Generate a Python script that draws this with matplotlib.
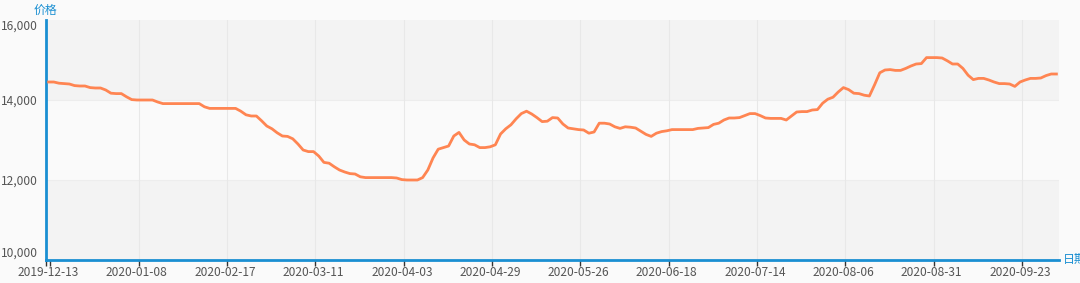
import numpy as np
import matplotlib.pyplot as plt

plt.rcParams['font.family'] = ['Noto Sans CJK SC', 'DejaVu Sans']

# 价格 (每个交易日一个点, 从图上读出来的)
prices = [
    14450, 14450, 14420, 14410, 14400, 14360, 14350, 14350, 14310, 14300,
    14300, 14250, 14170, 14160, 14160, 14080, 14010, 14000, 14000, 14000,
    14000, 13950, 13910, 13910, 13910, 13910, 13910, 13910, 13910, 13910,
    13830, 13790, 13790, 13790, 13790, 13790, 13790, 13720, 13630, 13600,
    13600, 13480, 13350, 13280, 13180, 13100, 13090, 13030, 12900, 12750,
    12710, 12710, 12600, 12440, 12420, 12330, 12250, 12200, 12160, 12150,
    12080, 12060, 12060, 12060, 12060, 12060, 12060, 12050, 12010, 12000,
    12000, 12000, 12060, 12250, 12550, 12770, 12810, 12850, 13100, 13190,
    13000, 12900, 12880, 12810, 12810, 12830, 12880, 13150, 13280, 13380,
    13530, 13660, 13720, 13650, 13560, 13460, 13470, 13560, 13550, 13400,
    13300, 13280, 13260, 13250, 13170, 13200, 13420, 13420, 13400, 13330,
    13290, 13330, 13320, 13300, 13220, 13140, 13090, 13170, 13210, 13230,
    13260, 13260, 13260, 13260, 13260, 13290, 13300, 13310, 13390, 13420,
    13500, 13550, 13550, 13560, 13610, 13660, 13660, 13610, 13550, 13540,
    13540, 13540, 13500, 13600, 13700, 13710, 13710, 13750, 13760, 13920,
    14020, 14070, 14200, 14310, 14260, 14170, 14160, 14120, 14100, 14380,
    14680, 14750, 14760, 14740, 14740, 14790, 14850, 14900, 14910, 15060,
    15060, 15060, 15050, 14980, 14900, 14900, 14790, 14620, 14510, 14540,
    14540, 14500, 14450, 14410, 14410, 14400, 14340, 14450, 14500, 14540,
    14540, 14550, 14610, 14650, 14650,
]

date_labels = ['2019-12-13', '2020-01-08', '2020-02-17', '2020-03-11',
               '2020-04-03', '2020-04-29', '2020-05-26', '2020-06-18',
               '2020-07-14', '2020-08-06', '2020-08-31', '2020-09-23']
label_step = 17

y_ticks = [10000, 12000, 14000, 16000]

axis_blue = '#1a8fd2'
line_color = '#ff8552'

fig = plt.figure(figsize=(10.8, 2.83), dpi=100, facecolor='#fafafa')
ax = fig.add_axes([46 / 1080, 1 - 260 / 283, (1059 - 46) / 1080, 240 / 283])
ax.set_facecolor('#fafafa')

n = len(prices)
x = np.arange(n)

# 背景条纹
for lo, hi, c in [(10000, 12000, '#f3f3f3'), (12000, 14000, '#fafafa'), (14000, 16000, '#f3f3f3')]:
    ax.axhspan(lo, hi, color=c, zorder=0, lw=0)
for yv in [12000, 14000]:
    ax.axhline(yv, color='#ededed', lw=0.8, zorder=0.5)

label_pos = np.arange(len(date_labels)) * label_step
for p in label_pos[1:]:
    ax.axvline(p + 0.35, color='#e8e8e8', lw=0.8, zorder=0.5)

ax.plot(x, prices, color=line_color, lw=2, solid_joinstyle='round', zorder=3)

ax.set_xlim(-0.5, n - 0.5)
ax.set_ylim(10000, 16000)

ax.set_xticks(label_pos)
ax.set_xticklabels(date_labels, fontsize=8.6, color='#555555')
ax.set_xticks([-0.5] + list(label_pos + 0.35), minor=True)
ax.tick_params(axis='x', which='major', length=0, pad=4)
ax.tick_params(axis='x', which='minor', length=4, width=1, color='#333333')

ax.set_yticks(y_ticks)
ax.set_yticklabels(['{:,}'.format(v) for v in y_ticks], fontsize=8.6, color='#555555')
ax.tick_params(axis='y', length=0, pad=6)
# 上下两端的标签往里收一点
ylabs = ax.get_yticklabels()
ylabs[0].set_va('bottom')
ylabs[-1].set_va('top')

for s in ['top', 'right']:
    ax.spines[s].set_visible(False)
for s in ['left', 'bottom']:
    ax.spines[s].set_color(axis_blue)
    ax.spines[s].set_linewidth(2)

fig.text(45 / 1080, 1 - 10 / 283, '价格', color=axis_blue, fontsize=8.6, ha='center', va='center')
fig.text(1063 / 1080, 1 - 259 / 283, '日期', color=axis_blue, fontsize=8.6, ha='left', va='center')

fig.savefig('out.png', dpi=100, facecolor=fig.get_facecolor())
